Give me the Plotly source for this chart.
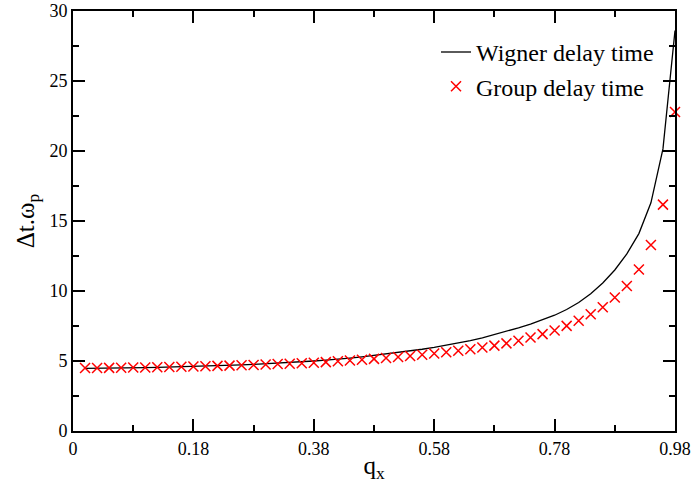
import plotly.graph_objects as go

# axis coordinate of each sample (plotted positions along q_x axis)
q_pos = [round(0.02 * k, 2) for k in range(1, 51)]

wigner = [4.48, 4.48, 4.49, 4.50, 4.51, 4.52, 4.54, 4.56, 4.58, 4.60,
          4.63, 4.66, 4.69, 4.72, 4.76, 4.80, 4.84, 4.88, 4.93, 5.00,
          5.06, 5.12, 5.21, 5.30, 5.40, 5.50, 5.61, 5.72, 5.84, 5.97,
          6.12, 6.28, 6.46, 6.66, 6.88, 7.11, 7.37, 7.64, 7.93, 8.27,
          8.68, 9.18, 9.80, 10.57, 11.50, 12.65, 14.10, 16.30, 20.15, 28.60]

group = [4.50, 4.50, 4.51, 4.52, 4.53, 4.54, 4.56, 4.57, 4.59, 4.61,
         4.63, 4.65, 4.67, 4.70, 4.72, 4.75, 4.78, 4.81, 4.84, 4.88,
         4.92, 4.98, 5.04, 5.09, 5.15, 5.21, 5.28, 5.36, 5.45, 5.54,
         5.63, 5.73, 5.84, 5.96, 6.10, 6.26, 6.44, 6.68, 6.92, 7.18,
         7.51, 7.87, 8.34, 8.84, 9.53, 10.36, 11.54, 13.28, 16.17, 22.78]

x_tickvals = [0, 0.2, 0.4, 0.6, 0.8, 1.0]
x_ticktext = ["0", "0.18", "0.38", "0.58", "0.78", "0.98"]
x_minor = [0.1, 0.3, 0.5, 0.7, 0.9]
y_tickvals = [0, 5, 10, 15, 20, 25, 30]
y_minor = [2.5, 7.5, 12.5, 17.5, 22.5, 27.5]

FONT = "Liberation Serif"

fig = go.Figure()
fig.add_trace(go.Scatter(
    x=q_pos, y=wigner, mode="lines", name="Wigner delay time",
    line=dict(color="black", width=1.3)))
fig.add_trace(go.Scatter(
    x=q_pos, y=group, mode="markers", name="Group delay time",
    cliponaxis=False,
    marker=dict(symbol="x-thin", size=10, color="red",
                line=dict(color="red", width=1.5))))

axis_common = dict(
    showgrid=False, zeroline=False, showline=True, linecolor="black",
    linewidth=2, mirror="ticks", ticks="inside", ticklen=12, tickwidth=1.5,
    tickcolor="black", tickfont=dict(family=FONT, size=18, color="black"),
    automargin=False, ticklabeloverflow="allow",
)

fig.update_xaxes(
    range=[0, 1], tickmode="array", tickvals=x_tickvals, ticktext=x_ticktext,
    minor=dict(tickmode="array", tickvals=x_minor, ticks="inside", ticklen=6,
               tickwidth=1.5, tickcolor="black"),
    title=dict(text="q<sub>x</sub>", font=dict(family=FONT, size=25, color="black"),
               standoff=4),
    **axis_common)
fig.update_yaxes(
    range=[0, 30], tickmode="array", tickvals=y_tickvals,
    minor=dict(tickmode="array", tickvals=y_minor, ticks="inside", ticklen=6,
               tickwidth=1.5, tickcolor="black"),
    title=dict(text="Δt.ω<sub>p</sub>", font=dict(family=FONT, size=25, color="black"),
               standoff=8),
    **axis_common)

fig.update_layout(
    width=691, height=483,
    margin=dict(l=73, r=16, t=11, b=52),
    plot_bgcolor="white", paper_bgcolor="white",
    font=dict(family=FONT, color="black"),
    legend=dict(x=0.603, y=0.955, xanchor="left", yanchor="top",
                font=dict(family=FONT, size=24, color="black"),
                bgcolor="rgba(0,0,0,0)", itemwidth=30, tracegroupgap=0),
    showlegend=True,
)

fig.write_html("out.html")
